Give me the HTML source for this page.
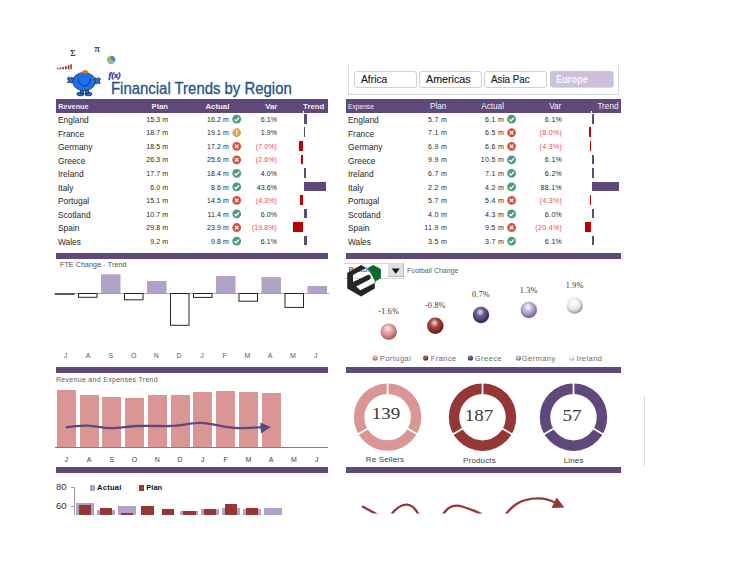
<!DOCTYPE html>
<html><head><meta charset="utf-8"><style>
html,body{margin:0;padding:0;background:#fff;}
body{width:729px;height:562px;position:relative;overflow:hidden;font-family:"Liberation Sans", sans-serif;}
</style></head><body>
<svg style="position:absolute;left:0;top:0" width="729" height="100" viewBox="0 0 729 100">
<text x="70.2" y="56.3" font-family="Liberation Serif" font-size="9" fill="#1a1a1a" stroke="#1a1a1a" stroke-width="0.2">&#931;</text>
<text x="94.5" y="52.4" font-family="Liberation Serif" font-size="10.5" fill="#1a1a1a" stroke="#1a1a1a" stroke-width="0.15">&#960;</text>
<circle cx="111.1" cy="59.9" r="4.2" fill="#9bbb59"/>
<path d="M111.1 59.9 L111.1 55.7 A4.2 4.2 0 0 1 115 61.5 Z" fill="#4f81bd"/>
<path d="M111.1 59.9 L115 61.5 A4.2 4.2 0 0 1 107.3 61.7 Z" fill="#b3a2c7"/>
<rect x="57" y="68" width="1.4" height="1.3" fill="#9b2b2b"/>
<rect x="59.5" y="67.6" width="1.6" height="1.7" fill="#9b2b2b"/>
<rect x="62.2" y="67" width="1.7" height="2.3" fill="#9b2b2b"/>
<rect x="65" y="66.2" width="1.7" height="3.1" fill="#9b2b2b"/>
<rect x="67.8" y="65.2" width="1.6" height="4.1" fill="#9b2b2b"/>
<rect x="70.3" y="64.3" width="1.5" height="5" fill="#9b2b2b"/>
<text x="108.4" y="77.8" font-family="Liberation Serif" font-style="italic" font-weight="bold" font-size="7.8" fill="#2a2aa0" stroke="#2a2aa0" stroke-width="0.3" textLength="12.5" lengthAdjust="spacingAndGlyphs">f(x)</text>
<g stroke="#222" stroke-width="0.7" fill="#1f6fe8">
<path d="M67.2 78.5 L69 76.8 L70.2 78.2 L72 77 L73.8 79.5 L73.8 82.3 L71.2 83 L69.5 82.3 L67.5 82.8 L68.5 80.5 Z"/>
<path d="M100.5 79 L98.5 77.5 L97.3 78.8 L95.2 77.8 L93.8 80.5 L94 83.2 L96.5 83.8 L98.2 83 L100.2 83.7 L99.2 81.3 Z"/>
<ellipse cx="80.4" cy="94" rx="3.6" ry="1.9"/>
<ellipse cx="88.4" cy="94" rx="3.6" ry="1.9"/>
<rect x="80.5" y="89" width="3" height="4.5"/><rect x="85.3" y="89" width="3" height="4.5"/>
<ellipse cx="84" cy="81.6" rx="11.3" ry="9.2"/>
</g>
<path d="M82 73.6 A3.1 3.3 0 0 1 88.2 73.6 Z" fill="#f07818" stroke="#7a3a0a" stroke-width="0.3"/>
<path d="M78.4 78.3 C78.4 88.2, 90.4 88.2, 90.4 78.6" fill="none" stroke="#10306a" stroke-width="1"/>
<circle cx="83" cy="76.3" r="0.4" fill="#10306a"/><circle cx="85.3" cy="76.3" r="0.4" fill="#10306a"/><circle cx="87.4" cy="76.5" r="0.4" fill="#10306a"/>
</svg>
<div style="position:absolute;left:110.8px;top:79.72px;font-size:16.4px;line-height:16.4px;color:#24508c;font-weight:normal;font-family:'Liberation Sans', sans-serif;white-space:nowrap;transform: scaleX(0.91);transform-origin:0 0;-webkit-text-stroke:0.3px #24508c;">Financial Trends by Region</div>
<div style="position:absolute;left:348px;top:65px;width:269px;height:29px;border-left:1px solid #d9d9d9;border-right:1px solid #d9d9d9;border-bottom:1px solid #d9d9d9;"></div>
<div style="position:absolute;left:354px;top:71px;width:61px;height:15px;border:1px solid #d0d0d0;border-radius:3px;background:#fff;"></div>
<div style="position:absolute;left:361px;top:73.61px;font-size:10.5px;line-height:10.5px;color:#1a1a1a;font-weight:normal;font-family:'Liberation Sans', sans-serif;white-space:nowrap;transform: scaleX(0.98);transform-origin:0 0;-webkit-text-stroke:0.15px #1a1a1a;">Africa</div>
<div style="position:absolute;left:419px;top:71px;width:61px;height:15px;border:1px solid #d0d0d0;border-radius:3px;background:#fff;"></div>
<div style="position:absolute;left:426px;top:73.61px;font-size:10.5px;line-height:10.5px;color:#1a1a1a;font-weight:normal;font-family:'Liberation Sans', sans-serif;white-space:nowrap;transform: scaleX(1.02);transform-origin:0 0;-webkit-text-stroke:0.15px #1a1a1a;">Americas</div>
<div style="position:absolute;left:484px;top:71px;width:61px;height:15px;border:1px solid #d0d0d0;border-radius:3px;background:#fff;"></div>
<div style="position:absolute;left:491px;top:73.61px;font-size:10.5px;line-height:10.5px;color:#1a1a1a;font-weight:normal;font-family:'Liberation Sans', sans-serif;white-space:nowrap;transform: scaleX(0.93);transform-origin:0 0;-webkit-text-stroke:0.15px #1a1a1a;">Asia Pac</div>
<div style="position:absolute;left:550px;top:71.4px;width:62.5px;height:16px;background:#ccc0da;border-radius:2px;box-shadow:0.5px 0.5px 0 #b9b0c4;"></div>
<div style="position:absolute;left:556px;top:73.61px;font-size:10.5px;line-height:10.5px;color:#f8f6fb;font-weight:bold;font-family:'Liberation Sans', sans-serif;white-space:nowrap;transform: scaleX(0.88);transform-origin:0 0;">Europe</div>
<div style="position:absolute;left:56px;top:99px;width:272px;height:13.7px;background:#5f497a;"></div>
<div style="position:absolute;left:58.2px;top:103.12px;font-size:7.3px;line-height:7.3px;color:#f0ecf5;font-weight:bold;font-family:'Liberation Sans', sans-serif;white-space:nowrap;">Revenue</div>
<div style="position:absolute;right:561.00px;top:102.70px;font-size:7.8px;line-height:7.8px;color:#f0ecf5;font-weight:bold;font-family:'Liberation Sans', sans-serif;white-space:nowrap;">Plan</div>
<div style="position:absolute;right:499.70px;top:102.70px;font-size:7.8px;line-height:7.8px;color:#f0ecf5;font-weight:bold;font-family:'Liberation Sans', sans-serif;white-space:nowrap;">Actual</div>
<div style="position:absolute;right:451.70px;top:102.70px;font-size:7.8px;line-height:7.8px;color:#f0ecf5;font-weight:bold;font-family:'Liberation Sans', sans-serif;white-space:nowrap;">Var</div>
<div style="position:absolute;right:404.70px;top:102.70px;font-size:7.8px;line-height:7.8px;color:#f0ecf5;font-weight:bold;font-family:'Liberation Sans', sans-serif;white-space:nowrap;">Trend</div>
<div style="position:absolute;left:58.0px;top:116.09px;font-size:8.4px;line-height:8.4px;color:#262626;font-weight:normal;font-family:'Liberation Sans', sans-serif;white-space:nowrap;">England</div>
<div style="position:absolute;right:560.80px;top:115.87px;font-size:7.0px;line-height:7.0px;color:#262626;font-weight:normal;font-family:'Liberation Sans', sans-serif;white-space:nowrap;letter-spacing:0.1px;">15.3 m</div>
<div style="position:absolute;right:500.00px;top:115.87px;font-size:7.0px;line-height:7.0px;color:#262626;font-weight:normal;font-family:'Liberation Sans', sans-serif;white-space:nowrap;letter-spacing:0.1px;">16.2 m</div>
<div style="position:absolute;right:452.00px;top:115.87px;font-size:7.0px;line-height:7.0px;color:#262626;font-weight:normal;font-family:'Liberation Sans', sans-serif;white-space:nowrap;letter-spacing:0.1px;">6.1%</div>
<div style="position:absolute;left:304.1px;top:113.9px;width:3.05px;height:9.7px;background:#5f497a;"></div>
<div style="position:absolute;left:58.0px;top:129.63px;font-size:8.4px;line-height:8.4px;color:#262626;font-weight:normal;font-family:'Liberation Sans', sans-serif;white-space:nowrap;">France</div>
<div style="position:absolute;right:560.80px;top:129.41px;font-size:7.0px;line-height:7.0px;color:#262626;font-weight:normal;font-family:'Liberation Sans', sans-serif;white-space:nowrap;letter-spacing:0.1px;">18.7 m</div>
<div style="position:absolute;right:500.00px;top:129.41px;font-size:7.0px;line-height:7.0px;color:#262626;font-weight:normal;font-family:'Liberation Sans', sans-serif;white-space:nowrap;letter-spacing:0.1px;">19.1 m</div>
<div style="position:absolute;right:452.00px;top:129.41px;font-size:7.0px;line-height:7.0px;color:#262626;font-weight:normal;font-family:'Liberation Sans', sans-serif;white-space:nowrap;letter-spacing:0.1px;">1.9%</div>
<div style="position:absolute;left:304.1px;top:127.44px;width:0.95px;height:9.7px;background:#5f497a;"></div>
<div style="position:absolute;left:58.0px;top:143.17px;font-size:8.4px;line-height:8.4px;color:#262626;font-weight:normal;font-family:'Liberation Sans', sans-serif;white-space:nowrap;">Germany</div>
<div style="position:absolute;right:560.80px;top:142.95px;font-size:7.0px;line-height:7.0px;color:#262626;font-weight:normal;font-family:'Liberation Sans', sans-serif;white-space:nowrap;letter-spacing:0.1px;">18.5 m</div>
<div style="position:absolute;right:500.00px;top:142.95px;font-size:7.0px;line-height:7.0px;color:#262626;font-weight:normal;font-family:'Liberation Sans', sans-serif;white-space:nowrap;letter-spacing:0.1px;">17.2 m</div>
<div style="position:absolute;right:452.00px;top:142.95px;font-size:7.0px;line-height:7.0px;color:#ef3f5d;font-weight:normal;font-family:'Liberation Sans', sans-serif;white-space:nowrap;letter-spacing:0.1px;">(7.0%)</div>
<div style="position:absolute;left:298.9px;top:140.98000000000002px;width:4.3px;height:9.7px;background:#c00000;"></div>
<div style="position:absolute;left:58.0px;top:156.71px;font-size:8.4px;line-height:8.4px;color:#262626;font-weight:normal;font-family:'Liberation Sans', sans-serif;white-space:nowrap;">Greece</div>
<div style="position:absolute;right:560.80px;top:156.49px;font-size:7.0px;line-height:7.0px;color:#262626;font-weight:normal;font-family:'Liberation Sans', sans-serif;white-space:nowrap;letter-spacing:0.1px;">26.3 m</div>
<div style="position:absolute;right:500.00px;top:156.49px;font-size:7.0px;line-height:7.0px;color:#262626;font-weight:normal;font-family:'Liberation Sans', sans-serif;white-space:nowrap;letter-spacing:0.1px;">25.6 m</div>
<div style="position:absolute;right:452.00px;top:156.49px;font-size:7.0px;line-height:7.0px;color:#ef3f5d;font-weight:normal;font-family:'Liberation Sans', sans-serif;white-space:nowrap;letter-spacing:0.1px;">(2.6%)</div>
<div style="position:absolute;left:301.09999999999997px;top:154.52px;width:2.1px;height:9.7px;background:#c00000;"></div>
<div style="position:absolute;left:58.0px;top:170.25px;font-size:8.4px;line-height:8.4px;color:#262626;font-weight:normal;font-family:'Liberation Sans', sans-serif;white-space:nowrap;">Ireland</div>
<div style="position:absolute;right:560.80px;top:170.03px;font-size:7.0px;line-height:7.0px;color:#262626;font-weight:normal;font-family:'Liberation Sans', sans-serif;white-space:nowrap;letter-spacing:0.1px;">17.7 m</div>
<div style="position:absolute;right:500.00px;top:170.03px;font-size:7.0px;line-height:7.0px;color:#262626;font-weight:normal;font-family:'Liberation Sans', sans-serif;white-space:nowrap;letter-spacing:0.1px;">18.4 m</div>
<div style="position:absolute;right:452.00px;top:170.03px;font-size:7.0px;line-height:7.0px;color:#262626;font-weight:normal;font-family:'Liberation Sans', sans-serif;white-space:nowrap;letter-spacing:0.1px;">4.0%</div>
<div style="position:absolute;left:304.1px;top:168.06px;width:2.0px;height:9.7px;background:#5f497a;"></div>
<div style="position:absolute;left:58.0px;top:183.79px;font-size:8.4px;line-height:8.4px;color:#262626;font-weight:normal;font-family:'Liberation Sans', sans-serif;white-space:nowrap;">Italy</div>
<div style="position:absolute;right:560.80px;top:183.57px;font-size:7.0px;line-height:7.0px;color:#262626;font-weight:normal;font-family:'Liberation Sans', sans-serif;white-space:nowrap;letter-spacing:0.1px;">6.0 m</div>
<div style="position:absolute;right:500.00px;top:183.57px;font-size:7.0px;line-height:7.0px;color:#262626;font-weight:normal;font-family:'Liberation Sans', sans-serif;white-space:nowrap;letter-spacing:0.1px;">8.6 m</div>
<div style="position:absolute;right:452.00px;top:183.57px;font-size:7.0px;line-height:7.0px;color:#262626;font-weight:normal;font-family:'Liberation Sans', sans-serif;white-space:nowrap;letter-spacing:0.1px;">43.6%</div>
<div style="position:absolute;left:304.1px;top:181.6px;width:21.8px;height:9.7px;background:#5f497a;"></div>
<div style="position:absolute;left:58.0px;top:197.33px;font-size:8.4px;line-height:8.4px;color:#262626;font-weight:normal;font-family:'Liberation Sans', sans-serif;white-space:nowrap;">Portugal</div>
<div style="position:absolute;right:560.80px;top:197.11px;font-size:7.0px;line-height:7.0px;color:#262626;font-weight:normal;font-family:'Liberation Sans', sans-serif;white-space:nowrap;letter-spacing:0.1px;">15.1 m</div>
<div style="position:absolute;right:500.00px;top:197.11px;font-size:7.0px;line-height:7.0px;color:#262626;font-weight:normal;font-family:'Liberation Sans', sans-serif;white-space:nowrap;letter-spacing:0.1px;">14.5 m</div>
<div style="position:absolute;right:452.00px;top:197.11px;font-size:7.0px;line-height:7.0px;color:#ef3f5d;font-weight:normal;font-family:'Liberation Sans', sans-serif;white-space:nowrap;letter-spacing:0.1px;">(4.3%)</div>
<div style="position:absolute;left:300.25px;top:195.14px;width:2.95px;height:9.7px;background:#c00000;"></div>
<div style="position:absolute;left:58.0px;top:210.87px;font-size:8.4px;line-height:8.4px;color:#262626;font-weight:normal;font-family:'Liberation Sans', sans-serif;white-space:nowrap;">Scotland</div>
<div style="position:absolute;right:560.80px;top:210.65px;font-size:7.0px;line-height:7.0px;color:#262626;font-weight:normal;font-family:'Liberation Sans', sans-serif;white-space:nowrap;letter-spacing:0.1px;">10.7 m</div>
<div style="position:absolute;right:500.00px;top:210.65px;font-size:7.0px;line-height:7.0px;color:#262626;font-weight:normal;font-family:'Liberation Sans', sans-serif;white-space:nowrap;letter-spacing:0.1px;">11.4 m</div>
<div style="position:absolute;right:452.00px;top:210.65px;font-size:7.0px;line-height:7.0px;color:#262626;font-weight:normal;font-family:'Liberation Sans', sans-serif;white-space:nowrap;letter-spacing:0.1px;">6.0%</div>
<div style="position:absolute;left:304.1px;top:208.68px;width:3.0px;height:9.7px;background:#5f497a;"></div>
<div style="position:absolute;left:58.0px;top:224.41px;font-size:8.4px;line-height:8.4px;color:#262626;font-weight:normal;font-family:'Liberation Sans', sans-serif;white-space:nowrap;">Spain</div>
<div style="position:absolute;right:560.80px;top:224.19px;font-size:7.0px;line-height:7.0px;color:#262626;font-weight:normal;font-family:'Liberation Sans', sans-serif;white-space:nowrap;letter-spacing:0.1px;">29.8 m</div>
<div style="position:absolute;right:500.00px;top:224.19px;font-size:7.0px;line-height:7.0px;color:#262626;font-weight:normal;font-family:'Liberation Sans', sans-serif;white-space:nowrap;letter-spacing:0.1px;">23.9 m</div>
<div style="position:absolute;right:452.00px;top:224.19px;font-size:7.0px;line-height:7.0px;color:#ef3f5d;font-weight:normal;font-family:'Liberation Sans', sans-serif;white-space:nowrap;letter-spacing:0.1px;">(19.8%)</div>
<div style="position:absolute;left:292.5px;top:222.22px;width:10.700000000000001px;height:9.7px;background:#c00000;"></div>
<div style="position:absolute;left:58.0px;top:237.95px;font-size:8.4px;line-height:8.4px;color:#262626;font-weight:normal;font-family:'Liberation Sans', sans-serif;white-space:nowrap;">Wales</div>
<div style="position:absolute;right:560.80px;top:237.73px;font-size:7.0px;line-height:7.0px;color:#262626;font-weight:normal;font-family:'Liberation Sans', sans-serif;white-space:nowrap;letter-spacing:0.1px;">9.2 m</div>
<div style="position:absolute;right:500.00px;top:237.73px;font-size:7.0px;line-height:7.0px;color:#262626;font-weight:normal;font-family:'Liberation Sans', sans-serif;white-space:nowrap;letter-spacing:0.1px;">9.8 m</div>
<div style="position:absolute;right:452.00px;top:237.73px;font-size:7.0px;line-height:7.0px;color:#262626;font-weight:normal;font-family:'Liberation Sans', sans-serif;white-space:nowrap;letter-spacing:0.1px;">6.1%</div>
<div style="position:absolute;left:304.1px;top:235.76px;width:3.05px;height:9.7px;background:#5f497a;"></div>
<div style="position:absolute;left:346px;top:99px;width:275px;height:13.7px;background:#5f497a;"></div>
<div style="position:absolute;left:348px;top:103.37px;font-size:7.0px;line-height:7.0px;color:#f0ecf5;font-weight:normal;font-family:'Liberation Sans', sans-serif;white-space:nowrap;transform: scaleX(0.95);transform-origin:0 0;">Expense</div>
<div style="position:absolute;right:282.70px;top:103.06px;font-size:8.2px;line-height:8.2px;color:#f4f0f8;font-weight:normal;font-family:'Liberation Sans', sans-serif;white-space:nowrap;">Plan</div>
<div style="position:absolute;right:225.00px;top:103.06px;font-size:8.2px;line-height:8.2px;color:#f4f0f8;font-weight:normal;font-family:'Liberation Sans', sans-serif;white-space:nowrap;">Actual</div>
<div style="position:absolute;right:167.70px;top:103.06px;font-size:8.2px;line-height:8.2px;color:#f4f0f8;font-weight:normal;font-family:'Liberation Sans', sans-serif;white-space:nowrap;">Var</div>
<div style="position:absolute;right:110.50px;top:103.06px;font-size:8.2px;line-height:8.2px;color:#f4f0f8;font-weight:normal;font-family:'Liberation Sans', sans-serif;white-space:nowrap;">Trend</div>
<div style="position:absolute;left:348.0px;top:116.09px;font-size:8.4px;line-height:8.4px;color:#262626;font-weight:normal;font-family:'Liberation Sans', sans-serif;white-space:nowrap;">England</div>
<div style="position:absolute;right:281.80px;top:115.87px;font-size:7.0px;line-height:7.0px;color:#262626;font-weight:normal;font-family:'Liberation Sans', sans-serif;white-space:nowrap;letter-spacing:0.35px;">5.7 m</div>
<div style="position:absolute;right:224.80px;top:115.87px;font-size:7.0px;line-height:7.0px;color:#262626;font-weight:normal;font-family:'Liberation Sans', sans-serif;white-space:nowrap;letter-spacing:0.35px;">6.1 m</div>
<div style="position:absolute;right:166.80px;top:115.87px;font-size:7.0px;line-height:7.0px;color:#262626;font-weight:normal;font-family:'Liberation Sans', sans-serif;white-space:nowrap;letter-spacing:0.35px;">6.1%</div>
<div style="position:absolute;left:591.9px;top:113.9px;width:1.8909999999999998px;height:9.7px;background:#5f497a;"></div>
<div style="position:absolute;left:348.0px;top:129.63px;font-size:8.4px;line-height:8.4px;color:#262626;font-weight:normal;font-family:'Liberation Sans', sans-serif;white-space:nowrap;">France</div>
<div style="position:absolute;right:281.80px;top:129.41px;font-size:7.0px;line-height:7.0px;color:#262626;font-weight:normal;font-family:'Liberation Sans', sans-serif;white-space:nowrap;letter-spacing:0.35px;">7.1 m</div>
<div style="position:absolute;right:224.80px;top:129.41px;font-size:7.0px;line-height:7.0px;color:#262626;font-weight:normal;font-family:'Liberation Sans', sans-serif;white-space:nowrap;letter-spacing:0.35px;">6.5 m</div>
<div style="position:absolute;right:166.80px;top:129.41px;font-size:7.0px;line-height:7.0px;color:#ef3f5d;font-weight:normal;font-family:'Liberation Sans', sans-serif;white-space:nowrap;letter-spacing:0.35px;">(8.0%)</div>
<div style="position:absolute;left:588.72px;top:127.44px;width:2.48px;height:9.7px;background:#c00000;"></div>
<div style="position:absolute;left:348.0px;top:143.17px;font-size:8.4px;line-height:8.4px;color:#262626;font-weight:normal;font-family:'Liberation Sans', sans-serif;white-space:nowrap;">Germany</div>
<div style="position:absolute;right:281.80px;top:142.95px;font-size:7.0px;line-height:7.0px;color:#262626;font-weight:normal;font-family:'Liberation Sans', sans-serif;white-space:nowrap;letter-spacing:0.35px;">6.9 m</div>
<div style="position:absolute;right:224.80px;top:142.95px;font-size:7.0px;line-height:7.0px;color:#262626;font-weight:normal;font-family:'Liberation Sans', sans-serif;white-space:nowrap;letter-spacing:0.35px;">6.6 m</div>
<div style="position:absolute;right:166.80px;top:142.95px;font-size:7.0px;line-height:7.0px;color:#ef3f5d;font-weight:normal;font-family:'Liberation Sans', sans-serif;white-space:nowrap;letter-spacing:0.35px;">(4.3%)</div>
<div style="position:absolute;left:589.8670000000001px;top:140.98000000000002px;width:1.333px;height:9.7px;background:#c00000;"></div>
<div style="position:absolute;left:348.0px;top:156.71px;font-size:8.4px;line-height:8.4px;color:#262626;font-weight:normal;font-family:'Liberation Sans', sans-serif;white-space:nowrap;">Greece</div>
<div style="position:absolute;right:281.80px;top:156.49px;font-size:7.0px;line-height:7.0px;color:#262626;font-weight:normal;font-family:'Liberation Sans', sans-serif;white-space:nowrap;letter-spacing:0.35px;">9.9 m</div>
<div style="position:absolute;right:224.80px;top:156.49px;font-size:7.0px;line-height:7.0px;color:#262626;font-weight:normal;font-family:'Liberation Sans', sans-serif;white-space:nowrap;letter-spacing:0.35px;">10.5 m</div>
<div style="position:absolute;right:166.80px;top:156.49px;font-size:7.0px;line-height:7.0px;color:#262626;font-weight:normal;font-family:'Liberation Sans', sans-serif;white-space:nowrap;letter-spacing:0.35px;">6.1%</div>
<div style="position:absolute;left:591.9px;top:154.52px;width:1.8909999999999998px;height:9.7px;background:#5f497a;"></div>
<div style="position:absolute;left:348.0px;top:170.25px;font-size:8.4px;line-height:8.4px;color:#262626;font-weight:normal;font-family:'Liberation Sans', sans-serif;white-space:nowrap;">Ireland</div>
<div style="position:absolute;right:281.80px;top:170.03px;font-size:7.0px;line-height:7.0px;color:#262626;font-weight:normal;font-family:'Liberation Sans', sans-serif;white-space:nowrap;letter-spacing:0.35px;">6.7 m</div>
<div style="position:absolute;right:224.80px;top:170.03px;font-size:7.0px;line-height:7.0px;color:#262626;font-weight:normal;font-family:'Liberation Sans', sans-serif;white-space:nowrap;letter-spacing:0.35px;">7.1 m</div>
<div style="position:absolute;right:166.80px;top:170.03px;font-size:7.0px;line-height:7.0px;color:#262626;font-weight:normal;font-family:'Liberation Sans', sans-serif;white-space:nowrap;letter-spacing:0.35px;">6.2%</div>
<div style="position:absolute;left:591.9px;top:168.06px;width:1.922px;height:9.7px;background:#5f497a;"></div>
<div style="position:absolute;left:348.0px;top:183.79px;font-size:8.4px;line-height:8.4px;color:#262626;font-weight:normal;font-family:'Liberation Sans', sans-serif;white-space:nowrap;">Italy</div>
<div style="position:absolute;right:281.80px;top:183.57px;font-size:7.0px;line-height:7.0px;color:#262626;font-weight:normal;font-family:'Liberation Sans', sans-serif;white-space:nowrap;letter-spacing:0.35px;">2.2 m</div>
<div style="position:absolute;right:224.80px;top:183.57px;font-size:7.0px;line-height:7.0px;color:#262626;font-weight:normal;font-family:'Liberation Sans', sans-serif;white-space:nowrap;letter-spacing:0.35px;">4.2 m</div>
<div style="position:absolute;right:166.80px;top:183.57px;font-size:7.0px;line-height:7.0px;color:#262626;font-weight:normal;font-family:'Liberation Sans', sans-serif;white-space:nowrap;letter-spacing:0.35px;">88.1%</div>
<div style="position:absolute;left:591.9px;top:181.6px;width:27.310999999999996px;height:9.7px;background:#5f497a;"></div>
<div style="position:absolute;left:348.0px;top:197.33px;font-size:8.4px;line-height:8.4px;color:#262626;font-weight:normal;font-family:'Liberation Sans', sans-serif;white-space:nowrap;">Portugal</div>
<div style="position:absolute;right:281.80px;top:197.11px;font-size:7.0px;line-height:7.0px;color:#262626;font-weight:normal;font-family:'Liberation Sans', sans-serif;white-space:nowrap;letter-spacing:0.35px;">5.7 m</div>
<div style="position:absolute;right:224.80px;top:197.11px;font-size:7.0px;line-height:7.0px;color:#262626;font-weight:normal;font-family:'Liberation Sans', sans-serif;white-space:nowrap;letter-spacing:0.35px;">5.4 m</div>
<div style="position:absolute;right:166.80px;top:197.11px;font-size:7.0px;line-height:7.0px;color:#ef3f5d;font-weight:normal;font-family:'Liberation Sans', sans-serif;white-space:nowrap;letter-spacing:0.35px;">(4.3%)</div>
<div style="position:absolute;left:589.8670000000001px;top:195.14px;width:1.333px;height:9.7px;background:#c00000;"></div>
<div style="position:absolute;left:348.0px;top:210.87px;font-size:8.4px;line-height:8.4px;color:#262626;font-weight:normal;font-family:'Liberation Sans', sans-serif;white-space:nowrap;">Scotland</div>
<div style="position:absolute;right:281.80px;top:210.65px;font-size:7.0px;line-height:7.0px;color:#262626;font-weight:normal;font-family:'Liberation Sans', sans-serif;white-space:nowrap;letter-spacing:0.35px;">4.0 m</div>
<div style="position:absolute;right:224.80px;top:210.65px;font-size:7.0px;line-height:7.0px;color:#262626;font-weight:normal;font-family:'Liberation Sans', sans-serif;white-space:nowrap;letter-spacing:0.35px;">4.3 m</div>
<div style="position:absolute;right:166.80px;top:210.65px;font-size:7.0px;line-height:7.0px;color:#262626;font-weight:normal;font-family:'Liberation Sans', sans-serif;white-space:nowrap;letter-spacing:0.35px;">6.0%</div>
<div style="position:absolute;left:591.9px;top:208.68px;width:1.8599999999999999px;height:9.7px;background:#5f497a;"></div>
<div style="position:absolute;left:348.0px;top:224.41px;font-size:8.4px;line-height:8.4px;color:#262626;font-weight:normal;font-family:'Liberation Sans', sans-serif;white-space:nowrap;">Spain</div>
<div style="position:absolute;right:281.80px;top:224.19px;font-size:7.0px;line-height:7.0px;color:#262626;font-weight:normal;font-family:'Liberation Sans', sans-serif;white-space:nowrap;letter-spacing:0.35px;">11.9 m</div>
<div style="position:absolute;right:224.80px;top:224.19px;font-size:7.0px;line-height:7.0px;color:#262626;font-weight:normal;font-family:'Liberation Sans', sans-serif;white-space:nowrap;letter-spacing:0.35px;">9.5 m</div>
<div style="position:absolute;right:166.80px;top:224.19px;font-size:7.0px;line-height:7.0px;color:#ef3f5d;font-weight:normal;font-family:'Liberation Sans', sans-serif;white-space:nowrap;letter-spacing:0.35px;">(20.4%)</div>
<div style="position:absolute;left:584.8760000000001px;top:222.22px;width:6.324px;height:9.7px;background:#c00000;"></div>
<div style="position:absolute;left:348.0px;top:237.95px;font-size:8.4px;line-height:8.4px;color:#262626;font-weight:normal;font-family:'Liberation Sans', sans-serif;white-space:nowrap;">Wales</div>
<div style="position:absolute;right:281.80px;top:237.73px;font-size:7.0px;line-height:7.0px;color:#262626;font-weight:normal;font-family:'Liberation Sans', sans-serif;white-space:nowrap;letter-spacing:0.35px;">3.5 m</div>
<div style="position:absolute;right:224.80px;top:237.73px;font-size:7.0px;line-height:7.0px;color:#262626;font-weight:normal;font-family:'Liberation Sans', sans-serif;white-space:nowrap;letter-spacing:0.35px;">3.7 m</div>
<div style="position:absolute;right:166.80px;top:237.73px;font-size:7.0px;line-height:7.0px;color:#262626;font-weight:normal;font-family:'Liberation Sans', sans-serif;white-space:nowrap;letter-spacing:0.35px;">6.1%</div>
<div style="position:absolute;left:591.9px;top:235.76px;width:1.8909999999999998px;height:9.7px;background:#5f497a;"></div>
<svg style="position:absolute;left:0;top:0" width="729" height="562"><circle cx="236.7" cy="119.19999999999999" r="4.4" fill="#4e9a7c"/><path d="M234.5 119.39999999999999 L236.1 120.99999999999999 L239.0 117.6" stroke="#fff" stroke-width="1.3" fill="none"/><circle cx="236.7" cy="132.73999999999998" r="4.4" fill="#d9aa55"/><rect x="236.1" y="130.14" width="1.2" height="3.2" fill="#fff"/><rect x="236.1" y="133.93999999999997" width="1.2" height="1.2" fill="#fff"/><circle cx="236.7" cy="146.28" r="4.4" fill="#d5533c"/><path d="M235.0 144.58 L238.39999999999998 147.98 M238.39999999999998 144.58 L235.0 147.98" stroke="#fff" stroke-width="1.2" fill="none"/><circle cx="236.7" cy="159.82" r="4.4" fill="#d5533c"/><path d="M235.0 158.12 L238.39999999999998 161.51999999999998 M238.39999999999998 158.12 L235.0 161.51999999999998" stroke="#fff" stroke-width="1.2" fill="none"/><circle cx="236.7" cy="173.35999999999999" r="4.4" fill="#4e9a7c"/><path d="M234.5 173.55999999999997 L236.1 175.16 L239.0 171.76" stroke="#fff" stroke-width="1.3" fill="none"/><circle cx="236.7" cy="186.89999999999998" r="4.4" fill="#4e9a7c"/><path d="M234.5 187.09999999999997 L236.1 188.7 L239.0 185.29999999999998" stroke="#fff" stroke-width="1.3" fill="none"/><circle cx="236.7" cy="200.43999999999997" r="4.4" fill="#d5533c"/><path d="M235.0 198.73999999999998 L238.39999999999998 202.13999999999996 M238.39999999999998 198.73999999999998 L235.0 202.13999999999996" stroke="#fff" stroke-width="1.2" fill="none"/><circle cx="236.7" cy="213.98" r="4.4" fill="#4e9a7c"/><path d="M234.5 214.17999999999998 L236.1 215.78 L239.0 212.38" stroke="#fff" stroke-width="1.3" fill="none"/><circle cx="236.7" cy="227.51999999999998" r="4.4" fill="#d5533c"/><path d="M235.0 225.82 L238.39999999999998 229.21999999999997 M238.39999999999998 225.82 L235.0 229.21999999999997" stroke="#fff" stroke-width="1.2" fill="none"/><circle cx="236.7" cy="241.05999999999997" r="4.4" fill="#4e9a7c"/><path d="M234.5 241.25999999999996 L236.1 242.85999999999999 L239.0 239.45999999999998" stroke="#fff" stroke-width="1.3" fill="none"/><circle cx="511.6" cy="119.19999999999999" r="4.4" fill="#4e9a7c"/><path d="M509.40000000000003 119.39999999999999 L511.0 120.99999999999999 L513.9 117.6" stroke="#fff" stroke-width="1.3" fill="none"/><circle cx="511.6" cy="132.73999999999998" r="4.4" fill="#d5533c"/><path d="M509.90000000000003 131.04 L513.3000000000001 134.43999999999997 M513.3000000000001 131.04 L509.90000000000003 134.43999999999997" stroke="#fff" stroke-width="1.2" fill="none"/><circle cx="511.6" cy="146.28" r="4.4" fill="#d5533c"/><path d="M509.90000000000003 144.58 L513.3000000000001 147.98 M513.3000000000001 144.58 L509.90000000000003 147.98" stroke="#fff" stroke-width="1.2" fill="none"/><circle cx="511.6" cy="159.82" r="4.4" fill="#4e9a7c"/><path d="M509.40000000000003 160.01999999999998 L511.0 161.62 L513.9 158.22" stroke="#fff" stroke-width="1.3" fill="none"/><circle cx="511.6" cy="173.35999999999999" r="4.4" fill="#4e9a7c"/><path d="M509.40000000000003 173.55999999999997 L511.0 175.16 L513.9 171.76" stroke="#fff" stroke-width="1.3" fill="none"/><circle cx="511.6" cy="186.89999999999998" r="4.4" fill="#4e9a7c"/><path d="M509.40000000000003 187.09999999999997 L511.0 188.7 L513.9 185.29999999999998" stroke="#fff" stroke-width="1.3" fill="none"/><circle cx="511.6" cy="200.43999999999997" r="4.4" fill="#d5533c"/><path d="M509.90000000000003 198.73999999999998 L513.3000000000001 202.13999999999996 M513.3000000000001 198.73999999999998 L509.90000000000003 202.13999999999996" stroke="#fff" stroke-width="1.2" fill="none"/><circle cx="511.6" cy="213.98" r="4.4" fill="#4e9a7c"/><path d="M509.40000000000003 214.17999999999998 L511.0 215.78 L513.9 212.38" stroke="#fff" stroke-width="1.3" fill="none"/><circle cx="511.6" cy="227.51999999999998" r="4.4" fill="#d5533c"/><path d="M509.90000000000003 225.82 L513.3000000000001 229.21999999999997 M513.3000000000001 225.82 L509.90000000000003 229.21999999999997" stroke="#fff" stroke-width="1.2" fill="none"/><circle cx="511.6" cy="241.05999999999997" r="4.4" fill="#4e9a7c"/><path d="M509.40000000000003 241.25999999999996 L511.0 242.85999999999999 L513.9 239.45999999999998" stroke="#fff" stroke-width="1.3" fill="none"/></svg>
<div style="position:absolute;left:303.3px;top:110.5px;width:0.8px;height:2.5px;background:#fff;"></div>
<div style="position:absolute;left:591.2px;top:110.5px;width:0.8px;height:2.5px;background:#fff;"></div>
<div style="position:absolute;left:56px;top:253px;width:272px;height:6px;background:#5f497a;"></div>
<div style="position:absolute;left:346px;top:253px;width:275px;height:6px;background:#5f497a;"></div>
<div style="position:absolute;left:56px;top:367px;width:272px;height:6px;background:#5f497a;"></div>
<div style="position:absolute;left:346px;top:367px;width:275px;height:6px;background:#5f497a;"></div>
<div style="position:absolute;left:56px;top:467px;width:272px;height:6px;background:#5f497a;"></div>
<div style="position:absolute;left:346px;top:467px;width:275px;height:6px;background:#5f497a;"></div>
<div style="position:absolute;left:60px;top:261.07px;font-size:7px;line-height:7px;color:#4a4a4a;font-weight:normal;font-family:'Liberation Sans', sans-serif;white-space:nowrap;letter-spacing:0.15px;">FTE Change - Trend</div>
<div style="position:absolute;left:53.5px;top:293px;width:275px;height:1px;background:#a6a6a6;"></div>
<svg style="position:absolute;left:0;top:0" width="729" height="562"><rect x="55" y="293" width="19.5" height="2" fill="#595959"/><rect x="78.5" y="293.5" width="18.5" height="3.8000000000000114" fill="#fff" stroke="#262626" stroke-width="1"/><rect x="101" y="274.3" width="19.5" height="18.69999999999999" fill="#b3a2c7"/><rect x="124.5" y="293.5" width="18.5" height="6.300000000000011" fill="#fff" stroke="#262626" stroke-width="1"/><rect x="147" y="281" width="19.5" height="12" fill="#b3a2c7"/><rect x="170.5" y="293.5" width="18.5" height="31.80000000000001" fill="#fff" stroke="#262626" stroke-width="1"/><rect x="193.5" y="293.5" width="18.5" height="3.8999999999999773" fill="#fff" stroke="#262626" stroke-width="1"/><rect x="216" y="276" width="19.5" height="17" fill="#b3a2c7"/><rect x="239.0" y="293.5" width="18.5" height="7.699999999999989" fill="#fff" stroke="#262626" stroke-width="1"/><rect x="261.5" y="277.1" width="19.5" height="15.899999999999977" fill="#b3a2c7"/><rect x="285.0" y="293.5" width="18.5" height="13.899999999999977" fill="#fff" stroke="#262626" stroke-width="1"/><rect x="307.5" y="286" width="19.5" height="7" fill="#b3a2c7"/></svg>
<div style="position:absolute;left:65.4px;top:351.87px;font-size:7px;line-height:7px;color:#5a5a5a;font-weight:normal;font-family:'Liberation Sans', sans-serif;white-space:nowrap;transform:translateX(-50%);">J</div>
<div style="position:absolute;left:88.15px;top:351.87px;font-size:7px;line-height:7px;color:#5a5a5a;font-weight:normal;font-family:'Liberation Sans', sans-serif;white-space:nowrap;transform:translateX(-50%);">A</div>
<div style="position:absolute;left:110.9px;top:351.87px;font-size:7px;line-height:7px;color:#5a5a5a;font-weight:normal;font-family:'Liberation Sans', sans-serif;white-space:nowrap;transform:translateX(-50%);">S</div>
<div style="position:absolute;left:133.65px;top:351.87px;font-size:7px;line-height:7px;color:#5a5a5a;font-weight:normal;font-family:'Liberation Sans', sans-serif;white-space:nowrap;transform:translateX(-50%);">O</div>
<div style="position:absolute;left:156.4px;top:351.87px;font-size:7px;line-height:7px;color:#5a5a5a;font-weight:normal;font-family:'Liberation Sans', sans-serif;white-space:nowrap;transform:translateX(-50%);">N</div>
<div style="position:absolute;left:179.15px;top:351.87px;font-size:7px;line-height:7px;color:#5a5a5a;font-weight:normal;font-family:'Liberation Sans', sans-serif;white-space:nowrap;transform:translateX(-50%);">D</div>
<div style="position:absolute;left:201.9px;top:351.87px;font-size:7px;line-height:7px;color:#5a5a5a;font-weight:normal;font-family:'Liberation Sans', sans-serif;white-space:nowrap;transform:translateX(-50%);">J</div>
<div style="position:absolute;left:224.65px;top:351.87px;font-size:7px;line-height:7px;color:#5a5a5a;font-weight:normal;font-family:'Liberation Sans', sans-serif;white-space:nowrap;transform:translateX(-50%);">F</div>
<div style="position:absolute;left:247.4px;top:351.87px;font-size:7px;line-height:7px;color:#5a5a5a;font-weight:normal;font-family:'Liberation Sans', sans-serif;white-space:nowrap;transform:translateX(-50%);">M</div>
<div style="position:absolute;left:270.15px;top:351.87px;font-size:7px;line-height:7px;color:#5a5a5a;font-weight:normal;font-family:'Liberation Sans', sans-serif;white-space:nowrap;transform:translateX(-50%);">A</div>
<div style="position:absolute;left:292.9px;top:351.87px;font-size:7px;line-height:7px;color:#5a5a5a;font-weight:normal;font-family:'Liberation Sans', sans-serif;white-space:nowrap;transform:translateX(-50%);">M</div>
<div style="position:absolute;left:315.65px;top:351.87px;font-size:7px;line-height:7px;color:#5a5a5a;font-weight:normal;font-family:'Liberation Sans', sans-serif;white-space:nowrap;transform:translateX(-50%);">J</div>
<div style="position:absolute;left:344px;top:262.5px;width:59px;height:14px;border:1px solid #d4d4d4;border-left:none;background:#fff;"></div>
<div style="position:absolute;left:348.5px;top:266.23px;font-size:8px;line-height:8px;color:#333;font-weight:normal;font-family:'Liberation Sans', sans-serif;white-space:nowrap;">Bottom</div>
<div style="position:absolute;left:388.4px;top:262.7px;width:15.3px;height:14.8px;background:#e0e0e0;box-shadow:inset -1px -1px 0 #b8b8b8;"></div>
<svg style="position:absolute;left:0;top:0" width="729" height="562"><path d="M391.7 268.5 L399.8 268.5 L395.75 273.8 Z" fill="#111"/></svg>
<div style="position:absolute;left:406.5px;top:267.05px;font-size:7.5px;line-height:7.5px;color:#5a5a5a;font-weight:normal;font-family:'Liberation Sans', sans-serif;white-space:nowrap;transform: scaleX(0.92);transform-origin:0 0;letter-spacing:0.05px;">Football Change</div>
<svg style="position:absolute;left:0;top:0" width="729" height="562">
<path fill-rule="evenodd" fill="#262626" d="M361 264.9 L374.8 272.9 L374.8 288.6 L361 296.6 L347.2 288.6 L347.2 272.9 Z
M353 275.1 L366.4 267.6 L375.6 272.6 L375.6 282.5 L360.3 290.2 L356.2 286.4 L369.6 279.4 Q372 277.3 369.8 275.2 Q368.9 274.6 367.7 274.9 L353 281.9 Z"/>
<polygon points="367.7,268.1 373.2,264.9 380.9,269.1 380.9,278.3 375.4,281.6" fill="#0b6a2e"/>
</svg>
<svg style="position:absolute;left:0;top:0" width="729" height="562"><defs><radialGradient id="bg0" cx="0.42" cy="0.38" r="0.68" fx="0.45" fy="0.33"><stop offset="0" stop-color="#f6c4c2"/><stop offset="0.55" stop-color="#dd908e"/><stop offset="1" stop-color="#8a4a48"/></radialGradient><radialGradient id="bg1" cx="0.42" cy="0.38" r="0.68" fx="0.45" fy="0.33"><stop offset="0" stop-color="#c86a68"/><stop offset="0.55" stop-color="#973836"/><stop offset="1" stop-color="#451212"/></radialGradient><radialGradient id="bg2" cx="0.42" cy="0.38" r="0.68" fx="0.45" fy="0.33"><stop offset="0" stop-color="#8e7db0"/><stop offset="0.55" stop-color="#5c4a82"/><stop offset="1" stop-color="#261a3c"/></radialGradient><radialGradient id="bg3" cx="0.42" cy="0.38" r="0.68" fx="0.45" fy="0.33"><stop offset="0" stop-color="#e8e2f2"/><stop offset="0.55" stop-color="#ab9dcb"/><stop offset="1" stop-color="#5f5278"/></radialGradient><radialGradient id="bg4" cx="0.42" cy="0.38" r="0.68" fx="0.45" fy="0.33"><stop offset="0" stop-color="#ffffff"/><stop offset="0.55" stop-color="#e8e6ee"/><stop offset="1" stop-color="#86838f"/></radialGradient><radialGradient id="spec" cx="0.45" cy="0.32" r="0.25"><stop offset="0" stop-color="#fff" stop-opacity="0.75"/><stop offset="1" stop-color="#fff" stop-opacity="0"/></radialGradient></defs><circle cx="388.7" cy="331.6" r="8.2" fill="url(#bg0)"/><circle cx="388.7" cy="331.6" r="8.2" fill="url(#spec)"/><circle cx="435.3" cy="325.8" r="8.2" fill="url(#bg1)"/><circle cx="435.3" cy="325.8" r="8.2" fill="url(#spec)"/><circle cx="481" cy="315" r="8.2" fill="url(#bg2)"/><circle cx="481" cy="315" r="8.2" fill="url(#spec)"/><circle cx="528.8" cy="310" r="8.2" fill="url(#bg3)"/><circle cx="528.8" cy="310" r="8.2" fill="url(#spec)"/><circle cx="574.7" cy="305.5" r="8.2" fill="url(#bg4)"/><circle cx="574.7" cy="305.5" r="8.2" fill="url(#spec)"/><circle cx="375" cy="358" r="2.6" fill="url(#bg0)"/><circle cx="425.7" cy="358" r="2.6" fill="url(#bg1)"/><circle cx="470.4" cy="358" r="2.6" fill="url(#bg2)"/><circle cx="518.4" cy="358" r="2.6" fill="url(#bg3)"/><circle cx="571.6" cy="358" r="2.6" fill="url(#bg4)"/></svg>
<div style="position:absolute;left:388.7px;top:307.53px;font-size:8px;line-height:8px;color:#333;font-weight:normal;font-family:'Liberation Serif', serif;white-space:nowrap;transform:translateX(-50%);letter-spacing:0.3px;">-1.6%</div>
<div style="position:absolute;left:435.3px;top:301.53px;font-size:8px;line-height:8px;color:#333;font-weight:normal;font-family:'Liberation Serif', serif;white-space:nowrap;transform:translateX(-50%);letter-spacing:0.3px;">-0.8%</div>
<div style="position:absolute;left:481px;top:290.83px;font-size:8px;line-height:8px;color:#333;font-weight:normal;font-family:'Liberation Serif', serif;white-space:nowrap;transform:translateX(-50%);letter-spacing:0.3px;">0.7%</div>
<div style="position:absolute;left:528.8px;top:286.73px;font-size:8px;line-height:8px;color:#333;font-weight:normal;font-family:'Liberation Serif', serif;white-space:nowrap;transform:translateX(-50%);letter-spacing:0.3px;">1.3%</div>
<div style="position:absolute;left:574.7px;top:281.83px;font-size:8px;line-height:8px;color:#333;font-weight:normal;font-family:'Liberation Serif', serif;white-space:nowrap;transform:translateX(-50%);letter-spacing:0.3px;">1.9%</div>
<div style="position:absolute;left:379.8px;top:354.65px;font-size:7.5px;line-height:7.5px;color:#6a6a6a;font-weight:normal;font-family:'Liberation Sans', sans-serif;white-space:nowrap;letter-spacing:0.45px;">Portugal</div>
<div style="position:absolute;left:430.7px;top:354.65px;font-size:7.5px;line-height:7.5px;color:#6a6a6a;font-weight:normal;font-family:'Liberation Sans', sans-serif;white-space:nowrap;letter-spacing:0.45px;">France</div>
<div style="position:absolute;left:474.8px;top:354.65px;font-size:7.5px;line-height:7.5px;color:#6a6a6a;font-weight:normal;font-family:'Liberation Sans', sans-serif;white-space:nowrap;letter-spacing:0.45px;">Greece</div>
<div style="position:absolute;left:521.7px;top:354.65px;font-size:7.5px;line-height:7.5px;color:#6a6a6a;font-weight:normal;font-family:'Liberation Sans', sans-serif;white-space:nowrap;letter-spacing:0.45px;">Germany</div>
<div style="position:absolute;left:576.4px;top:354.65px;font-size:7.5px;line-height:7.5px;color:#6a6a6a;font-weight:normal;font-family:'Liberation Sans', sans-serif;white-space:nowrap;letter-spacing:0.45px;">Ireland</div>
<div style="position:absolute;left:56px;top:375.67px;font-size:7px;line-height:7px;color:#595959;font-weight:normal;font-family:'Liberation Sans', sans-serif;white-space:nowrap;letter-spacing:0.3px;">Revenue and Expenses Trend</div>
<div style="position:absolute;left:56.9px;top:390px;width:19px;height:57px;background:#d99694;"></div>
<div style="position:absolute;left:79.66px;top:395.3px;width:19px;height:51.69999999999999px;background:#d99694;"></div>
<div style="position:absolute;left:102.42px;top:396.9px;width:19px;height:50.10000000000002px;background:#d99694;"></div>
<div style="position:absolute;left:125.18px;top:397.9px;width:19px;height:49.10000000000002px;background:#d99694;"></div>
<div style="position:absolute;left:147.94px;top:395.3px;width:19px;height:51.69999999999999px;background:#d99694;"></div>
<div style="position:absolute;left:170.70000000000002px;top:395.2px;width:19px;height:51.80000000000001px;background:#d99694;"></div>
<div style="position:absolute;left:193.46px;top:391.5px;width:19px;height:55.5px;background:#d99694;"></div>
<div style="position:absolute;left:216.22000000000003px;top:391px;width:19px;height:56px;background:#d99694;"></div>
<div style="position:absolute;left:238.98000000000002px;top:391.5px;width:19px;height:55.5px;background:#d99694;"></div>
<div style="position:absolute;left:261.74px;top:392.8px;width:19px;height:54.19999999999999px;background:#d99694;"></div>
<div style="position:absolute;left:55px;top:447px;width:273px;height:1px;background:#7f7f7f;"></div>
<div style="position:absolute;left:66.3px;top:456.07px;font-size:7px;line-height:7px;color:#404040;font-weight:normal;font-family:'Liberation Sans', sans-serif;white-space:nowrap;transform:translateX(-50%);">J</div>
<div style="position:absolute;left:89.06px;top:456.07px;font-size:7px;line-height:7px;color:#404040;font-weight:normal;font-family:'Liberation Sans', sans-serif;white-space:nowrap;transform:translateX(-50%);">A</div>
<div style="position:absolute;left:111.82px;top:456.07px;font-size:7px;line-height:7px;color:#404040;font-weight:normal;font-family:'Liberation Sans', sans-serif;white-space:nowrap;transform:translateX(-50%);">S</div>
<div style="position:absolute;left:134.57999999999998px;top:456.07px;font-size:7px;line-height:7px;color:#404040;font-weight:normal;font-family:'Liberation Sans', sans-serif;white-space:nowrap;transform:translateX(-50%);">O</div>
<div style="position:absolute;left:157.34px;top:456.07px;font-size:7px;line-height:7px;color:#404040;font-weight:normal;font-family:'Liberation Sans', sans-serif;white-space:nowrap;transform:translateX(-50%);">N</div>
<div style="position:absolute;left:180.10000000000002px;top:456.07px;font-size:7px;line-height:7px;color:#404040;font-weight:normal;font-family:'Liberation Sans', sans-serif;white-space:nowrap;transform:translateX(-50%);">D</div>
<div style="position:absolute;left:202.86px;top:456.07px;font-size:7px;line-height:7px;color:#404040;font-weight:normal;font-family:'Liberation Sans', sans-serif;white-space:nowrap;transform:translateX(-50%);">J</div>
<div style="position:absolute;left:225.62px;top:456.07px;font-size:7px;line-height:7px;color:#404040;font-weight:normal;font-family:'Liberation Sans', sans-serif;white-space:nowrap;transform:translateX(-50%);">F</div>
<div style="position:absolute;left:248.38px;top:456.07px;font-size:7px;line-height:7px;color:#404040;font-weight:normal;font-family:'Liberation Sans', sans-serif;white-space:nowrap;transform:translateX(-50%);">M</div>
<div style="position:absolute;left:271.14px;top:456.07px;font-size:7px;line-height:7px;color:#404040;font-weight:normal;font-family:'Liberation Sans', sans-serif;white-space:nowrap;transform:translateX(-50%);">A</div>
<div style="position:absolute;left:293.90000000000003px;top:456.07px;font-size:7px;line-height:7px;color:#404040;font-weight:normal;font-family:'Liberation Sans', sans-serif;white-space:nowrap;transform:translateX(-50%);">M</div>
<div style="position:absolute;left:316.66px;top:456.07px;font-size:7px;line-height:7px;color:#404040;font-weight:normal;font-family:'Liberation Sans', sans-serif;white-space:nowrap;transform:translateX(-50%);">J</div>
<svg style="position:absolute;left:0;top:0" width="729" height="562">
<path d="M65.7 427.3 C74 426, 80 425.3, 88 425.6 C96 425.9, 103 428.2, 111 428.1 C120 428, 128 426.3, 137.3 426 C150 425.7, 162 426.2, 170 426 C183 425.6, 190 422.6, 201.3 422.8 C213 423, 225 428, 239.1 428.1 C248 428.2, 254 427.5, 262 427.2" fill="none" stroke="#5f497a" stroke-width="2.3"/>
<polygon points="260.2,422.6 270.9,427.1 260.9,433.4" fill="#5f497a"/>
</svg>
<svg style="position:absolute;left:0;top:0" width="729" height="562"><circle cx="387.6" cy="417.1" r="28.450000000000003" fill="none" stroke="#d99694" stroke-width="10.500000000000004"/><line x1="387.60" y1="394.90" x2="387.60" y2="382.40" stroke="#fff" stroke-width="1.8"/><line x1="406.83" y1="428.20" x2="417.65" y2="434.45" stroke="#fff" stroke-width="1.8"/><line x1="368.37" y1="428.20" x2="357.55" y2="434.45" stroke="#fff" stroke-width="1.8"/></svg>
<div style="position:absolute;left:385.8px;top:406.23px;font-size:16.5px;line-height:16.5px;color:#3a3a3a;font-weight:normal;font-family:'Liberation Serif', serif;white-space:nowrap;transform:translateX(-50%) scaleX(1.15);">139</div>
<div style="position:absolute;left:385px;top:456.43px;font-size:8px;line-height:8px;color:#404040;font-weight:normal;font-family:'Liberation Sans', sans-serif;white-space:nowrap;transform:translateX(-50%);letter-spacing:0.15px;">Re Sellers</div>
<svg style="position:absolute;left:0;top:0" width="729" height="562"><circle cx="482.5" cy="417.2" r="28.450000000000003" fill="none" stroke="#953735" stroke-width="10.500000000000004"/><line x1="482.50" y1="395.00" x2="482.50" y2="382.50" stroke="#fff" stroke-width="1.8"/><line x1="501.73" y1="428.30" x2="512.55" y2="434.55" stroke="#fff" stroke-width="1.8"/><line x1="463.27" y1="428.30" x2="452.45" y2="434.55" stroke="#fff" stroke-width="1.8"/></svg>
<div style="position:absolute;left:479px;top:407.73px;font-size:16.5px;line-height:16.5px;color:#3a3a3a;font-weight:normal;font-family:'Liberation Serif', serif;white-space:nowrap;transform:translateX(-50%) scaleX(1.15);">187</div>
<div style="position:absolute;left:479.5px;top:457.13px;font-size:8px;line-height:8px;color:#404040;font-weight:normal;font-family:'Liberation Sans', sans-serif;white-space:nowrap;transform:translateX(-50%);letter-spacing:0.15px;">Products</div>
<svg style="position:absolute;left:0;top:0" width="729" height="562"><circle cx="573.5" cy="417.2" r="28.450000000000003" fill="none" stroke="#5f497a" stroke-width="10.500000000000004"/><line x1="573.50" y1="395.00" x2="573.50" y2="382.50" stroke="#fff" stroke-width="1.8"/><line x1="592.73" y1="428.30" x2="603.55" y2="434.55" stroke="#fff" stroke-width="1.8"/><line x1="554.27" y1="428.30" x2="543.45" y2="434.55" stroke="#fff" stroke-width="1.8"/></svg>
<div style="position:absolute;left:571.5px;top:407.73px;font-size:16.5px;line-height:16.5px;color:#3a3a3a;font-weight:normal;font-family:'Liberation Serif', serif;white-space:nowrap;transform:translateX(-50%) scaleX(1.15);">57</div>
<div style="position:absolute;left:573.6px;top:457.13px;font-size:8px;line-height:8px;color:#404040;font-weight:normal;font-family:'Liberation Sans', sans-serif;white-space:nowrap;transform:translateX(-50%);letter-spacing:0.15px;">Lines</div>
<div style="position:absolute;left:643.5px;top:395.5px;width:1px;height:70.5px;background:#d9d9d9;"></div>
<div style="position:absolute;left:55.6px;top:482.82px;font-size:8.6px;line-height:8.6px;color:#333;font-weight:normal;font-family:'Liberation Sans', sans-serif;white-space:nowrap;transform: scaleX(1.12);transform-origin:0 0;">80</div>
<div style="position:absolute;left:55.6px;top:501.82px;font-size:8.6px;line-height:8.6px;color:#333;font-weight:normal;font-family:'Liberation Sans', sans-serif;white-space:nowrap;transform: scaleX(1.12);transform-origin:0 0;">60</div>
<div style="position:absolute;left:74px;top:487px;width:1px;height:27.6px;background:#a0a0a0;"></div>
<div style="position:absolute;left:71px;top:487px;width:3.5px;height:1px;background:#a0a0a0;"></div>
<div style="position:absolute;left:71px;top:506px;width:3.5px;height:1px;background:#a0a0a0;"></div>
<div style="position:absolute;left:89.5px;top:485.1px;width:5.3px;height:5.5px;background:#b3a2c7;"></div>
<div style="position:absolute;left:97.1px;top:483.95px;font-size:7.5px;line-height:7.5px;color:#111;font-weight:bold;font-family:'Liberation Sans', sans-serif;white-space:nowrap;letter-spacing:0.25px;">Actual</div>
<div style="position:absolute;left:138.9px;top:485.1px;width:5px;height:5.5px;background:#953735;"></div>
<div style="position:absolute;left:146.3px;top:483.95px;font-size:7.5px;line-height:7.5px;color:#111;font-weight:bold;font-family:'Liberation Sans', sans-serif;white-space:nowrap;">Plan</div>
<div style="position:absolute;left:76px;top:502.6px;width:18px;height:12.0px;background:#b3a2c7;"></div>
<div style="position:absolute;left:97.2px;top:509.5px;width:18px;height:5.100000000000023px;background:#b3a2c7;"></div>
<div style="position:absolute;left:118px;top:506.2px;width:18px;height:8.400000000000034px;background:#b3a2c7;"></div>
<div style="position:absolute;left:180.2px;top:510.7px;width:18px;height:3.900000000000034px;background:#b3a2c7;"></div>
<div style="position:absolute;left:201.3px;top:508.8px;width:18px;height:5.800000000000011px;background:#b3a2c7;"></div>
<div style="position:absolute;left:221.8px;top:508.2px;width:18px;height:6.400000000000034px;background:#b3a2c7;"></div>
<div style="position:absolute;left:243px;top:508.8px;width:18px;height:5.800000000000011px;background:#b3a2c7;"></div>
<div style="position:absolute;left:263.7px;top:508.4px;width:18px;height:6.2000000000000455px;background:#b3a2c7;"></div>
<div style="position:absolute;left:78.8px;top:504.6px;width:12.5px;height:10.0px;background:#953735;"></div>
<div style="position:absolute;left:99.9px;top:507.5px;width:12.5px;height:7.100000000000023px;background:#953735;"></div>
<div style="position:absolute;left:120.5px;top:513px;width:12.5px;height:1.6000000000000227px;background:#953735;"></div>
<div style="position:absolute;left:141.4px;top:505.9px;width:12.5px;height:8.700000000000045px;background:#953735;"></div>
<div style="position:absolute;left:161.9px;top:509.2px;width:12.5px;height:5.400000000000034px;background:#953735;"></div>
<div style="position:absolute;left:183px;top:511px;width:12.5px;height:3.6000000000000227px;background:#953735;"></div>
<div style="position:absolute;left:203.8px;top:509.2px;width:12.5px;height:5.400000000000034px;background:#953735;"></div>
<div style="position:absolute;left:224.7px;top:503.8px;width:12.5px;height:10.800000000000011px;background:#953735;"></div>
<div style="position:absolute;left:245.5px;top:508.2px;width:12.5px;height:6.400000000000034px;background:#953735;"></div>
<svg style="position:absolute;left:0;top:0" width="729" height="562">
<defs><clipPath id="cc"><rect x="340" y="480" width="300" height="33.5"/></clipPath></defs>
<g clip-path="url(#cc)" fill="none" stroke="#953735" stroke-width="2.4">
<path d="M362 506.2 L378 515"/>
<path d="M390 516.5 C396 507.5, 401 504.6, 406.7 504.6 C412 504.6, 416 509, 419.5 516.5"/>
<path d="M441.5 516.5 C447 508, 451 505.6, 456.6 505.6 C463 505.6, 470 509, 482 514.2"/>
<path d="M504.5 516 C512 506, 520 498.6, 538 498.4 C545 498.3, 550 500, 555 502.5"/>
</g>
<polygon points="556.7,497.6 564.4,507.4 551.5,508" fill="#953735"/>
</svg>
</body></html>
